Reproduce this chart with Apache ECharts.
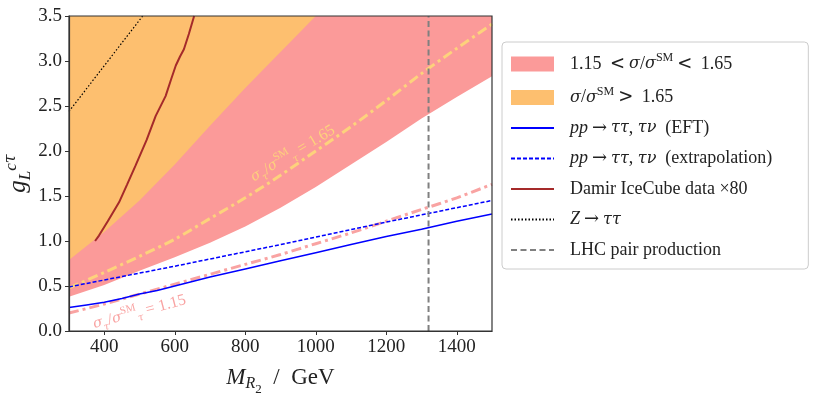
<!DOCTYPE html>
<html>
<head>
<meta charset="utf-8">
<script src="https://cdn.jsdelivr.net/npm/echarts@6/dist/echarts.min.js"></script>
<style>
  html, body { margin: 0; padding: 0; background: #fff; }
  #chart { width: 830px; height: 396px; }
</style>
</head>
<body>
<div id="chart"></div>
<script>
// masses (GeV) the bands / contours were read at
const massGrid = [300, 400, 500, 600, 700, 800, 900, 1000, 1100, 1200, 1300, 1400, 1500];
// lower edge of the 1.15 < sigma/sigmaSM < 1.65 band (filled up to top)
const band115Lower = [0.38, 0.51, 0.67, 0.82, 0.98, 1.16, 1.37, 1.60, 1.85, 2.10, 2.36, 2.60, 2.83];
// lower edge of sigma/sigmaSM > 1.65
const band165Mass = [300, 400, 500, 600, 700, 800, 900, 1000];
const band165Lower = [0.79, 1.10, 1.45, 1.85, 2.28, 2.70, 3.10, 3.50];
// dash-dot contours
const contour165 = [0.48, 0.65, 0.83, 1.02, 1.25, 1.48, 1.73, 2.00, 2.27, 2.56, 2.86, 3.14, 3.41];
const contour115 = [0.20, 0.30, 0.41, 0.52, 0.63, 0.74, 0.85, 0.97, 1.09, 1.22, 1.35, 1.48, 1.63];
// pp -> tautau, taunu
const eftMass = [300, 350, 400, 450, 500, 550, 600, 650, 700, 800, 900, 1000, 1100, 1200, 1300, 1400, 1500];
const eftLimit = [0.26, 0.29, 0.32, 0.36, 0.41, 0.45, 0.50, 0.55, 0.60, 0.69, 0.78, 0.87, 0.96, 1.05, 1.13, 1.22, 1.30];
const extrapMass = [300, 600, 900, 1200, 1500];
const extrapLimit = [0.49, 0.72, 0.96, 1.21, 1.45];
// IceCube x80
const iceMass = [374, 385, 410, 442, 465, 489, 520, 546, 574, 590, 603, 615, 626, 640, 655];
const iceLimit = [1.0, 1.06, 1.22, 1.43, 1.63, 1.84, 2.12, 2.39, 2.61, 2.80, 2.95, 3.05, 3.13, 3.30, 3.50];
// Z -> tautau
const zMass = [300, 509];
const zLimit = [2.44, 3.5];
// LHC pair production bound
const lhcMass = 1320;
const xTicks = [400, 600, 800, 1000, 1200, 1400];

const pairs = (xs, ys) => xs.map((x, i) => [x, ys[i]]);

const SERIF = "'Liberation Serif', 'DejaVu Serif', serif";
const MATH = "'DejaVu Serif', 'Liberation Serif', serif";
const TXT = "#222";

// rich styles for poor man's TeX (colour given both ways: labels use color, graphic uses fill)
function mathRich(size, color) {
  const small = Math.round(size * 0.68);
  const base = { color: color, fill: color, verticalAlign: "middle", lineHeight: size + 6 };
  const top = { color: color, fill: color, verticalAlign: "top", lineHeight: small };
  const bot = { color: color, fill: color, verticalAlign: "bottom", lineHeight: small };
  return {
    n: Object.assign({ fontFamily: SERIF, fontSize: size }, base),
    i: Object.assign({ fontFamily: SERIF, fontSize: size, fontStyle: "italic" }, base),
    g: Object.assign({ fontFamily: MATH, fontSize: size - 2, fontStyle: "italic" }, base),
    arr: Object.assign({ fontFamily: MATH, fontSize: size, padding: [0, 4, 0, 4] }, base),
    gap: { width: 11 },
    sup: Object.assign({ fontFamily: SERIF, fontSize: small }, top),
    supi: Object.assign({ fontFamily: SERIF, fontSize: small, fontStyle: "italic" }, top),
    supg: Object.assign({ fontFamily: MATH, fontSize: small - 1, fontStyle: "italic" }, top),
    sub: Object.assign({ fontFamily: SERIF, fontSize: small, fontStyle: "italic" }, bot),
    subg: Object.assign({ fontFamily: MATH, fontSize: small - 1, fontStyle: "italic" }, bot),
    subn: Object.assign({ fontFamily: SERIF, fontSize: Math.round(small * 0.8), padding: [0, 0, -4, 0] }, bot)
  };
}

const legendText = {
  band115: "{gap|}{n|1.15 }{arr|<}{g|σ}{n|/}{g|σ}{sup|SM}{arr|<}{n| 1.65}",
  band165: "{gap|}{g|σ}{n|/}{g|σ}{sup|SM}{arr|>}{n| 1.65}",
  eft: "{gap|}{i|pp}{arr|→}{g|ττ}{n|, }{g|τν}{n|  (EFT)}",
  extrap: "{gap|}{i|pp}{arr|→}{g|ττ}{n|, }{g|τν}{n|  (extrapolation)}",
  ice: "{gap|}{n|Damir IceCube data ×80}",
  z: "{gap|}{i|Z}{arr|→}{g|ττ}",
  lhc: "{gap|}{n|LHC pair production}"
};

// line entries: hide the circle ECharts puts on the legend line
const noDot = { color: "rgba(0,0,0,0)", borderColor: "rgba(0,0,0,0)", borderWidth: 0 };

const chart = echarts.init(document.getElementById("chart"));

chart.setOption({
  animation: false,
  backgroundColor: "#fff",
  grid: {
    left: 69, right: 338, top: 16, bottom: 65,
    outerBoundsMode: "none",
    containLabel: false,
    show: true, z: 10,
    borderColor: "#333", borderWidth: 1.2,
    backgroundColor: "rgba(0,0,0,0)"
  },
  xAxis: {
    type: "value",
    min: 300, max: 1500,
    splitLine: { show: false },
    axisLine: { show: true, lineStyle: { color: "#333", width: 1.2 } },
    axisTick: { show: true, length: 4, customValues: xTicks, lineStyle: { color: "#333" } },
    axisLabel: { customValues: xTicks, margin: 7, color: TXT, fontFamily: SERIF, fontSize: 19, formatter: v => String(v) },
    name: "{i|M}{sub|R}{subn|2}{n|  /  GeV}",
    nameLocation: "middle",
    nameGap: 32,
    nameTextStyle: { rich: mathRich(23, TXT) },
    z: 10
  },
  yAxis: {
    type: "value",
    min: 0, max: 3.5, interval: 0.5,
    splitLine: { show: false },
    axisLine: { show: true, lineStyle: { color: "#333", width: 1.2 } },
    axisTick: { show: true, length: 4, lineStyle: { color: "#333" } },
    axisLabel: { margin: 7, color: TXT, fontFamily: SERIF, fontSize: 19, formatter: v => v.toFixed(1) },
    name: "{i|g}{sub|L}{supi|c}{supg|τ}",
    nameLocation: "middle",
    nameRotate: 90,
    nameGap: 35,
    nameMoveOverlap: false,
    nameTextStyle: { rich: mathRich(25, TXT) },
    z: 10
  },
  legend: {
    orient: "vertical",
    left: 502, top: 42,
    padding: [10, 36, 10, 8],
    itemGap: 12.5,
    itemWidth: 43, itemHeight: 15,
    backgroundColor: "#fff",
    borderColor: "#ccc", borderWidth: 1, borderRadius: 4,
    textStyle: { rich: mathRich(18, TXT) },
    formatter: name => legendText[name],
    data: [
      { name: "band115", icon: "rect", itemStyle: { color: "#fb9a99", borderWidth: 0 } },
      { name: "band165", icon: "rect", itemStyle: { color: "#fdbf6f", borderWidth: 0 } },
      { name: "eft", itemStyle: noDot },
      { name: "extrap", itemStyle: noDot },
      { name: "ice", itemStyle: noDot },
      { name: "z", itemStyle: noDot },
      { name: "lhc", itemStyle: noDot }
    ]
  },
  series: [
    {
      name: "band115", type: "line", symbol: "none", z: 1,
      itemStyle: { color: "#fb9a99" },
      lineStyle: { width: 0 },
      areaStyle: { color: "#fb9a99", opacity: 1, origin: "end" },
      data: pairs(massGrid, band115Lower)
    },
    {
      name: "band165", type: "line", symbol: "none", z: 2,
      itemStyle: { color: "#fdbf6f" },
      lineStyle: { width: 0 },
      areaStyle: { color: "#fdbf6f", opacity: 1, origin: "end" },
      data: pairs(band165Mass, band165Lower)
    },
    {
      name: "c165", type: "line", symbol: "none", z: 3, smooth: 0.3,
      lineStyle: { color: "#fdd27c", width: 3, type: [10, 4, 3, 4] },
      data: pairs(massGrid, contour165)
    },
    {
      name: "c115", type: "line", symbol: "none", z: 3, smooth: 0.3,
      lineStyle: { color: "#f9a3a2", width: 3, type: [10, 4, 3, 4] },
      data: pairs(massGrid, contour115)
    },
    {
      name: "eft", type: "line", symbol: "none", z: 4,
      itemStyle: { color: "#0000ff" },
      lineStyle: { color: "#0000ff", width: 1.5 },
      data: pairs(eftMass, eftLimit)
    },
    {
      name: "extrap", type: "line", symbol: "none", z: 4,
      itemStyle: { color: "#0000ff" },
      lineStyle: { color: "#0000ff", width: 1.5, type: [4, 2] },
      data: pairs(extrapMass, extrapLimit)
    },
    {
      name: "ice", type: "line", symbol: "none", z: 4,
      itemStyle: { color: "#a52a2a" },
      lineStyle: { color: "#a52a2a", width: 2 },
      data: pairs(iceMass, iceLimit)
    },
    {
      name: "z", type: "line", symbol: "none", z: 4,
      itemStyle: { color: "#000" },
      lineStyle: { color: "#000", width: 1.2, type: [1.5, 2] },
      data: pairs(zMass, zLimit)
    },
    {
      name: "lhc", type: "line", symbol: "none", z: 5,
      itemStyle: { color: "#808080" },
      lineStyle: { color: "#808080", width: 2, type: [6, 3.5] },
      data: [[lhcMass, 0], [lhcMass, 3.5]]
    }
  ]
});

// contour labels, placed in data coordinates next to their lines
const p165 = chart.convertToPixel({ gridIndex: 0 }, [935, 1.97]);
const p115 = chart.convertToPixel({ gridIndex: 0 }, [500, 0.21]);
chart.setOption({
  graphic: [
    {
      type: "text", x: p165[0], y: p165[1], rotation: 31 * Math.PI / 180, z: 20,
      style: {
        text: "{g|σ}{subg|τ}{n|/}{g|σ}{sup|SM}{subg|τ}{n| = 1.65}",
        rich: mathRich(16, "#fdd27c"),
        align: "center", verticalAlign: "middle"
      }
    },
    {
      type: "text", x: p115[0], y: p115[1], rotation: 15 * Math.PI / 180, z: 20,
      style: {
        text: "{g|σ}{subg|τ}{n|/}{g|σ}{sup|SM}{subg|τ}{n| = 1.15}",
        rich: mathRich(16, "#f9a3a2"),
        align: "center", verticalAlign: "middle"
      }
    }
  ]
});
</script>
</body>
</html>
